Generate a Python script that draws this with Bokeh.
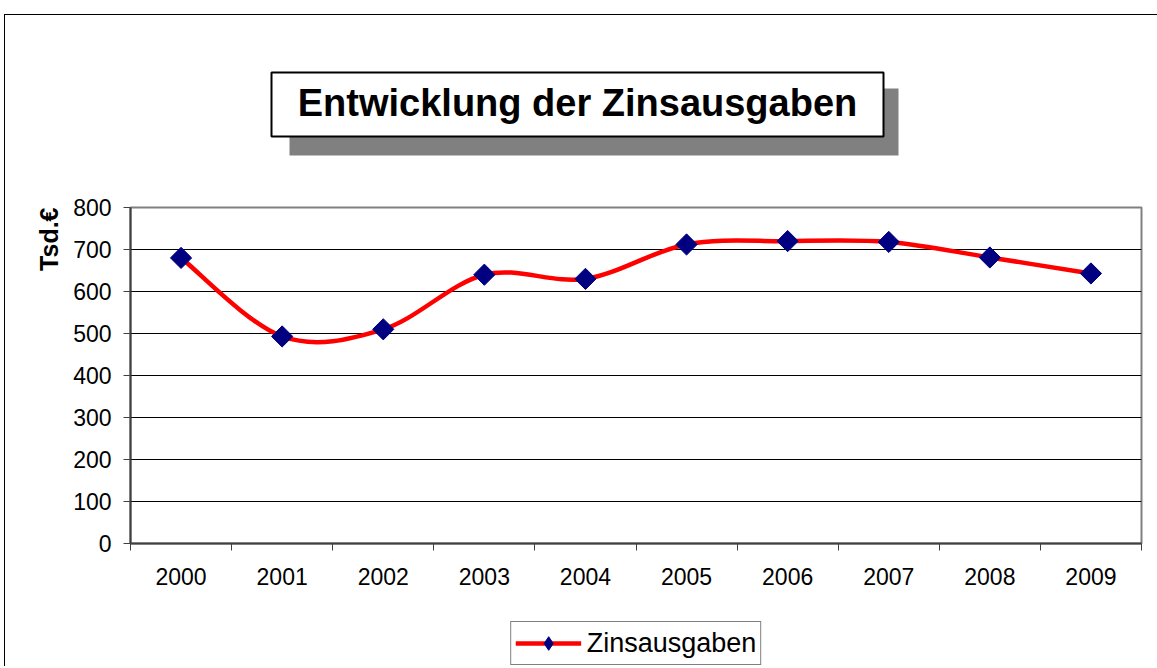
import numpy as np
from bokeh.plotting import figure
from bokeh.layouts import column
from bokeh.models import (Range1d, FixedTicker, Title, Legend, LegendItem)
from bokeh.core.properties import value
from bokeh.embed import file_html
from bokeh.resources import INLINE

# ---- data ----
years = ["2000", "2001", "2002", "2003", "2004", "2005", "2006", "2007", "2008", "2009"]
zinsausgaben = [680, 493, 510, 640, 630, 712, 720, 718, 681, 643]
y_ticks = [0, 100, 200, 300, 400, 500, 600, 700, 800]
title_text = "Entwicklung der Zinsausgaben"
y_label_text = "Tsd.€"
series_name = "Zinsausgaben"

FONT = "Liberation Sans"
RED, NAVY = "#FF0000", "#000080"
OX, OY = 5, 15          # page offset of the layout content (margin + border)
W = 1157 - OX
T = 165 - OY            # title strip height
PL, PR = 130, 1141      # page x of the (aligned) plot frames

# ---- title strip ----
top = figure(width=W, height=T, x_range=Range1d(PL, PR), y_range=Range1d(OY + T, OY),
             x_axis_type=None, y_axis_type=None, min_border=0,
             output_backend="svg", toolbar_location=None,
             outline_line_color=None, background_fill_color="white", border_fill_color="white")
top.quad(left=[289], right=[898], top=[88], bottom=[155],
         fill_color="#808080", line_color=None)
top.quad(left=[271], right=[883], top=[72], bottom=[136],
         fill_color="white", line_color="black", line_width=2)
top.text(x=[577], y=[102], text=[title_text], text_font=value(FONT),
         text_font_size=value("38px"), text_font_style="bold", text_color="black",
         text_align="center", text_baseline="middle")

# ---- main chart ----
FL = PL - OX
FW = PR - PL
FT = 207 - 165
FH = 336
FB = 55
p = figure(frame_width=FW, frame_height=FH,
           x_range=Range1d(-0.5, len(years) - 0.5), y_range=Range1d(0, 800),
           output_backend="svg", toolbar_location=None,
           min_border_left=FL, min_border_top=FT, min_border_right=W - FL - FW,
           min_border_bottom=FB,
           background_fill_color="white", border_fill_color="white",
           outline_line_color="#808080", outline_line_width=2)

p.add_layout(Title(text=y_label_text, align="right", text_font=FONT,
                   text_font_size="25px", text_font_style="bold", text_color="black",
                   standoff=16), "left")

p.xgrid.visible = False
p.ygrid.ticker = FixedTicker(ticks=y_ticks[1:-1])
p.ygrid.grid_line_color = "black"
p.ygrid.grid_line_width = 1

xs = list(range(len(years)))
p.xaxis.ticker = FixedTicker(ticks=xs, minor_ticks=[i - 0.5 for i in range(len(years) + 1)])
p.xaxis.major_label_overrides = {i: years[i] for i in xs}
p.xaxis.major_tick_line_color = None
p.xaxis.major_tick_out = 0
p.xaxis.major_tick_in = 0
p.xaxis.minor_tick_in = 0
p.xaxis.minor_tick_out = 7
p.xaxis.minor_tick_line_color = "#404040"
p.xaxis.major_label_standoff = 17

p.yaxis.ticker = FixedTicker(ticks=y_ticks)
p.yaxis.major_tick_out = 7
p.yaxis.major_tick_in = 0
p.yaxis.major_tick_line_color = "#404040"
p.yaxis.major_label_standoff = 12

for ax in (p.xaxis, p.yaxis):
    ax.axis_line_color = "#404040"
    ax.axis_line_width = 2
    ax.major_label_text_font = FONT
    ax.major_label_text_font_size = "23px"
    ax.major_label_text_color = "black"

# smoothed line (Catmull-Rom -> cubic Bezier through the data points)
xv = np.array(xs, dtype=float)
yv = np.array(zinsausgaben, dtype=float)
n = len(xv)
x0, y0, x1, y1, cx0, cy0, cx1, cy1 = ([] for _ in range(8))
for i in range(n - 1):
    a = max(i - 1, 0)
    d = min(i + 2, n - 1)
    x0.append(xv[i]); y0.append(yv[i])
    x1.append(xv[i + 1]); y1.append(yv[i + 1])
    cx0.append(xv[i] + (xv[i + 1] - xv[a]) / 6)
    cy0.append(yv[i] + (yv[i + 1] - yv[a]) / 6)
    cx1.append(xv[i + 1] - (xv[d] - xv[i]) / 6)
    cy1.append(yv[i + 1] - (yv[d] - yv[i]) / 6)
p.bezier(x0=x0, y0=y0, x1=x1, y1=y1, cx0=cx0, cy0=cy0, cx1=cx1, cy1=cy1,
         line_color=RED, line_width=4.5)
p.scatter(x=xs, y=zinsausgaben, marker="square", angle=np.pi / 4, size=15,
          fill_color=NAVY, line_color=NAVY)

# ---- legend strip (series renderers kept outside its visible range) ----
BH = 668 - (165 + FT + FH + FB) - 2
bot = figure(width=W, height=BH, x_range=Range1d(100, 101), y_range=Range1d(0, 1),
             x_axis_type=None, y_axis_type=None, min_border=0,
             output_backend="svg", toolbar_location=None,
             outline_line_color=None, background_fill_color="white", border_fill_color="white")
lr = bot.line(x=xs, y=zinsausgaben, line_color=RED, line_width=4.5)
sr = bot.scatter(x=xs, y=zinsausgaben, marker="diamond", size=15,
                 fill_color=NAVY, line_color=NAVY)
legend = Legend(items=[LegendItem(label=series_name, renderers=[lr, sr])],
                location="top_center", orientation="horizontal",
                border_line_color="black", border_line_width=1,
                background_fill_color="white", background_fill_alpha=1,
                label_text_font=FONT, label_text_font_size="27px", label_text_color="black",
                glyph_width=66, glyph_height=34, label_standoff=6, padding=4,
                margin=621 - (165 + FT + FH + FB), spacing=0)
bot.add_layout(legend)

layout = column(top, p, bot, spacing=0, margin=(OY - 1, 0, 0, OX - 1),
                styles={"border-top": "1px solid black", "border-left": "1px solid black"})

open("out.html", "w").write(file_html(layout, INLINE))
